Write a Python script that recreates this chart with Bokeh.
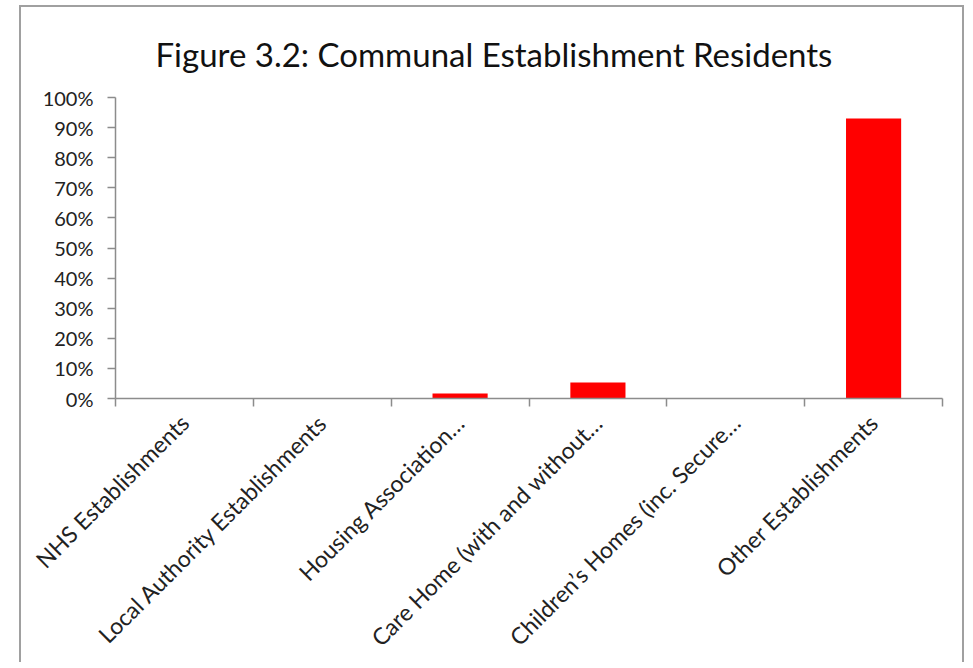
from bokeh.plotting import figure
from bokeh.models import (Range1d, FixedTicker, NumeralTickFormatter, LinearAxis,
                          ColumnDataSource)
from bokeh.embed import file_html
from bokeh.resources import INLINE
import math

title_text = "Figure 3.2: Communal Establishment Residents"
categories = [
    "NHS Establishments",
    "Local Authority Establishments",
    "Housing Association\u2026",
    "Care Home (with and without\u2026",
    "Children\u2019s Homes (inc. Secure\u2026",
    "Other Establishments",
]
values = [0.0, 0.0, 0.017, 0.053, 0.0, 0.93]
y_ticks = [i / 10 for i in range(11)]

FONT = "Lato"
GRAY = "#8c8c8c"

n = len(categories)
xs = [i + 0.5 for i in range(n)]
src = ColumnDataSource(dict(x=xs, top=values, cat=categories))

p = figure(width=945, height=657, output_backend="svg", toolbar_location=None,
           x_range=Range1d(0, n), y_range=Range1d(0, 1),
           x_axis_type=None, y_axis_type=None,
           min_border_left=94, min_border_right=24, min_border_top=90, min_border_bottom=266)
p.margin = (5, 0, 0, 19)
p.styles = {"border": "2px solid #a0a0a0", "border-bottom": "none"}
p.outline_line_color = None
p.background_fill_color = "white"
p.border_fill_color = "white"

p.title.text = title_text
p.title.align = "left"
p.title.offset = 40
p.title.standoff = 47
p.title.text_font = FONT
p.title.text_font_size = "33px"
p.title.text_font_style = "normal"
p.title.text_color = "#111111"

p.vbar(x="x", top="top", width=0.4, bottom=0, source=src, fill_color="#ff0000", line_color=None)

# y axis
yax = LinearAxis(ticker=FixedTicker(ticks=y_ticks), formatter=NumeralTickFormatter(format="0%"))
yax.axis_line_color = GRAY
yax.axis_line_width = 1.5
yax.major_tick_line_color = GRAY
yax.major_tick_line_width = 1.5
yax.major_tick_out = 8
yax.major_tick_in = 0
yax.minor_tick_line_color = None
yax.major_label_text_font = FONT
yax.major_label_text_font_size = "20px"
yax.major_label_text_color = "#222222"
yax.major_label_standoff = 14
p.add_layout(yax, "left")

# x axis (ticks at category boundaries, labels at centres)
xax = LinearAxis(ticker=FixedTicker(ticks=xs, minor_ticks=list(range(n + 1))))
xax.major_label_overrides = {x: c for x, c in zip(xs, categories)}
xax.axis_line_color = GRAY
xax.axis_line_width = 1.5
xax.major_tick_line_color = None
xax.major_tick_out = 8
xax.major_tick_in = 0
xax.minor_tick_line_color = GRAY
xax.minor_tick_line_width = 1.5
xax.minor_tick_out = 8
xax.minor_tick_in = 0
xax.major_label_orientation = math.pi / 4
xax.major_label_text_font = FONT
xax.major_label_text_font_size = "23px"
xax.major_label_text_color = "#222222"
xax.major_label_standoff = 12
p.add_layout(xax, "below")

p.ygrid.ticker = FixedTicker(ticks=y_ticks)
p.ygrid.grid_line_color = GRAY
p.ygrid.grid_line_width = 1.5

open("out.html", "w").write(file_html(p, INLINE))
